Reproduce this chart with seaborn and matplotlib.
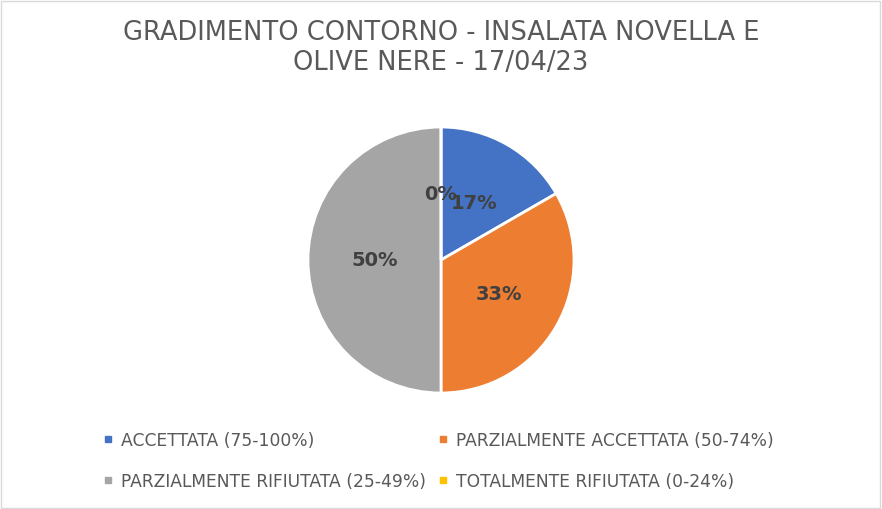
import matplotlib
matplotlib.use("Agg")
import matplotlib.pyplot as plt
import seaborn as sns
import numpy as np
from matplotlib.patches import Rectangle
from matplotlib.lines import Line2D

categories = ["ACCETTATA (75-100%)", "PARZIALMENTE ACCETTATA (50-74%)",
              "PARZIALMENTE RIFIUTATA (25-49%)", "TOTALMENTE RIFIUTATA (0-24%)"]
values = [1, 2, 3, 0]
pct_labels = ["17%", "33%", "50%", "0%"]
colors = ["#4472C4", "#ED7D31", "#A5A5A5", "#FFC000"]
title = "GRADIMENTO CONTORNO - INSALATA NOVELLA E\nOLIVE NERE - 17/04/23"

sns.set_theme(style="white")
plt.rcParams['font.family'] = ['DejaVu Sans']

fig = plt.figure(figsize=(8.82, 5.10), dpi=100)
ax = fig.add_axes([308/882, (510-394)/510, 266/882, 266/510])

wedges, _ = ax.pie(values, colors=colors, startangle=90, counterclock=False,
                   radius=1, wedgeprops=dict(edgecolor="white", linewidth=2))
total = sum(values)
ang = 90.0
for v, lab in zip(values, pct_labels):
    span = 360.0 * v / total
    mid = np.deg2rad(ang - span / 2)
    ax.text(0.5 * np.cos(mid), 0.5 * np.sin(mid), lab, ha="center", va="center",
            fontsize=14, fontweight="bold", color="#404040")
    ang -= span
ax.set_xlim(-1, 1)
ax.set_ylim(-1, 1)
ax.set_aspect("equal")
ax.axis("off")

fig.text(0.5, 1 - 48.5/510, title, ha="center", va="center", fontsize=18.5,
         color="#595959", linespacing=1.2)

handles = [Line2D([0], [0], marker="s", linestyle="", markersize=5,
                  markerfacecolor=c, markeredgecolor=c) for c in colors]

def column_legend(idx, xleft):
    leg = fig.legend([handles[i] for i in idx], [categories[i] for i in idx],
                     ncol=1, loc="center left",
                     bbox_to_anchor=(xleft/882, 1 - 461.5/510),
                     frameon=False, fontsize=12.3, labelcolor="#595959",
                     handletextpad=0.45, handlelength=0.6, borderpad=0,
                     borderaxespad=0, labelspacing=1.4)
    return leg

column_legend([0, 2], 103)
column_legend([1, 3], 438)

fig.patches.append(Rectangle((0.001, 0.002), 0.997, 0.995, transform=fig.transFigure,
                             fill=False, edgecolor="#D9D9D9", linewidth=1))

fig.savefig("out.png", dpi=100, facecolor="white")
